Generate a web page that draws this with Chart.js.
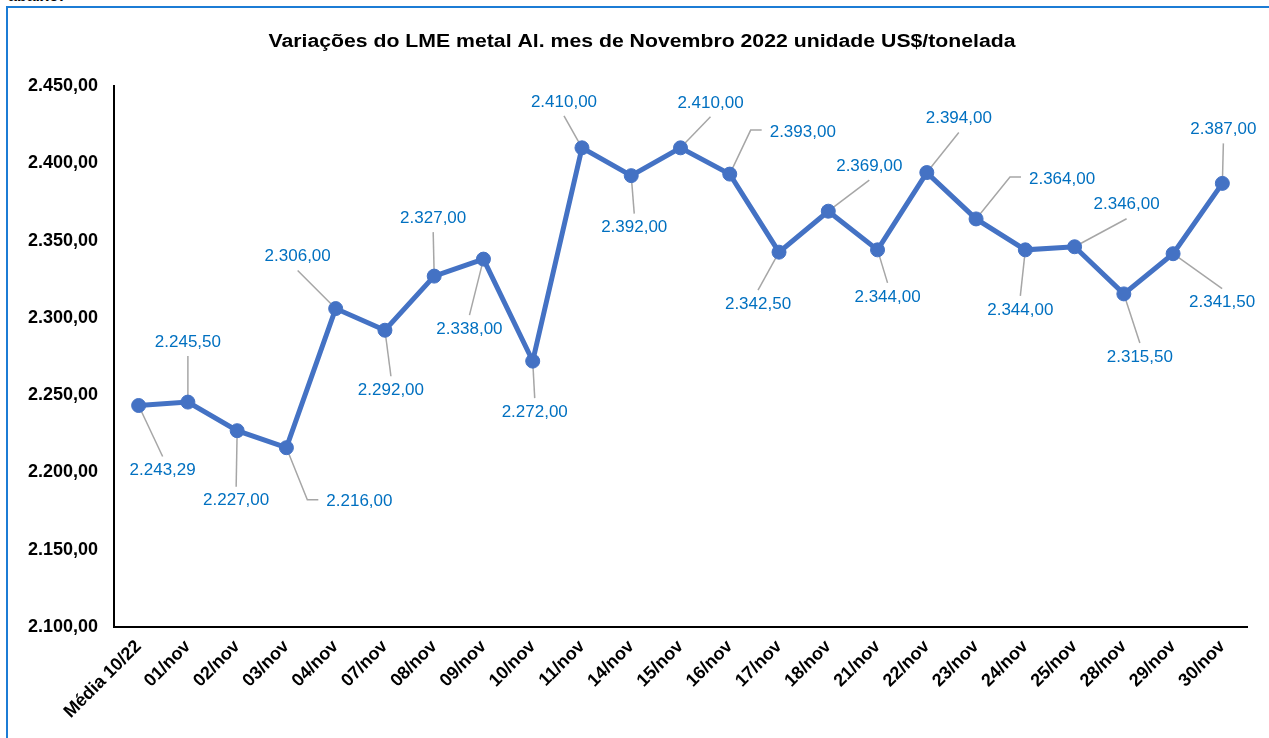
<!DOCTYPE html>
<html lang="pt-BR">
<head>
<meta charset="utf-8">
<title>LME Alumínio - Novembro 2022</title>
<script src="https://cdn.jsdelivr.net/npm/chart.js@4.4.1/dist/chart.umd.min.js"></script>
<style>
  html, body { margin: 0; padding: 0; background: #fff; overflow: hidden; }
  body { width: 1269px; height: 738px; position: relative; font-family: Arial, "Liberation Sans", sans-serif; }
  .corte { position: absolute; left: 8px; top: -13px; font-weight: bold; font-size: 16px; color: #000; }
  .moldura { position: absolute; left: 6px; top: 6px; width: 1290px; height: 760px; border: 2px solid #1C7CD5; }
  .grafico { position: absolute; left: 9px; top: 9px; width: 1260px; height: 729px; }
</style>
</head>
<body>
<div class="corte">abaixo:</div>
<div class="moldura"></div>
<div class="grafico"><canvas id="lmeChart"></canvas></div>

<script>
/* ===========================
   LME ALUMÍNIO - NOV/2022
   =========================== */

const titulo = 'Variações do LME metal Al. mes de Novembro 2022 unidade US$/tonelada';

const datas = ['Média 10/22', '01/nov', '02/nov', '03/nov', '04/nov', '07/nov', '08/nov', '09/nov',
    '10/nov', '11/nov', '14/nov', '15/nov', '16/nov', '17/nov', '18/nov', '21/nov', '22/nov',
    '23/nov', '24/nov', '25/nov', '28/nov', '29/nov', '30/nov'];

const precos = [2243.29, 2245.50, 2227.00, 2216.00, 2306.00, 2292.00, 2327.00, 2338.00,
    2272.00, 2410.00, 2392.00, 2410.00, 2393.00, 2342.50, 2369.00, 2344.00, 2394.00,
    2364.00, 2344.00, 2346.00, 2315.50, 2341.50, 2387.00];

const eixoY = { min: 2100, max: 2450, passo: 50 };

// posição dos rótulos em relação ao ponto: [dx, dy, ligação]
// b = linha até a base do rótulo, t = até o topo, l = pela esquerda com cotovelo
const posRotulos = [
    [24, 65, 't'], [0, -60, 'b'], [-1, 70, 't'], [73, 54, 'l'], [-38, -52, 'b'],
    [6, 60, 't'], [-1, -58, 'b'], [-14, 70, 't'], [2, 51, 't'], [-18, -46, 'b'],
    [3, 52, 't'], [30, -45, 'b'], [73, -42, 'l'], [-21, 52, 't'], [41, -45, 'b'],
    [10, 47, 't'], [32, -54, 'b'], [86, -40, 'l'], [-5, 60, 't'], [52, -42, 'b'],
    [16, 63, 't'], [49, 49, 't'], [1, -54, 'b']
];

function formatBR(v) {
    const [inteiro, dec] = v.toFixed(2).split('.');
    return inteiro.replace(/\B(?=(\d{3})+(?!\d))/g, '.') + ',' + dec;
}

const FONTE = 'Arial, "Liberation Sans", sans-serif';

function caixaRotulo(ctx, pt, i) {
    const txt = formatBR(precos[i]);
    const [dx, dy, modo] = posRotulos[i];
    const cx = pt.x + dx, cy = pt.y + dy;
    const w = ctx.measureText(txt).width;
    return { txt, modo, cx, cy, left: cx - w / 2 };
}

// título desenhado à mão (levemente esticado na horizontal como no Excel)
const tituloPlugin = {
    id: 'tituloPlugin',
    afterDraw(chart) {
        const ctx = chart.ctx;
        ctx.save();
        ctx.font = 'bold 18px ' + FONTE;
        ctx.fillStyle = '#000';
        ctx.textAlign = 'center';
        ctx.textBaseline = 'middle';
        ctx.translate(chart.width / 2 + 3, 33);
        ctx.scale(1.18, 1);
        ctx.fillText(titulo, 0, 0);
        ctx.restore();
    }
};

const rotulos = {
    id: 'rotulos',
    beforeDatasetsDraw(chart) {
        const ctx = chart.ctx;
        const meta = chart.getDatasetMeta(0);
        ctx.save();
        ctx.font = '17px ' + FONTE;
        ctx.strokeStyle = '#A6A6A6';
        ctx.lineWidth = 1.5;
        meta.data.forEach((pt, i) => {
            const r = caixaRotulo(ctx, pt, i);
            ctx.beginPath();
            ctx.moveTo(pt.x, pt.y);
            if (r.modo === 'b') {
                ctx.lineTo(r.cx, r.cy + 14);
            } else if (r.modo === 't') {
                ctx.lineTo(r.cx, r.cy - 14);
            } else {
                ctx.lineTo(r.left - 19, r.cy - 2);
                ctx.lineTo(r.left - 8, r.cy - 2);
            }
            ctx.stroke();
        });
        ctx.restore();
    },
    afterDatasetsDraw(chart) {
        const ctx = chart.ctx;
        const meta = chart.getDatasetMeta(0);
        ctx.save();
        ctx.font = '17px ' + FONTE;
        ctx.fillStyle = '#0070C0';
        ctx.textAlign = 'left';
        ctx.textBaseline = 'middle';
        meta.data.forEach((pt, i) => {
            const r = caixaRotulo(ctx, pt, i);
            ctx.fillText(r.txt, r.left, r.cy);
        });
        ctx.restore();
    }
};

new Chart(document.getElementById('lmeChart'), {
    type: 'line',
    data: {
        labels: datas,
        datasets: [{
            label: 'LME Al.',
            data: precos,
            borderColor: '#4472C4',
            backgroundColor: '#4472C4',
            borderWidth: 5,
            tension: 0,
            pointRadius: 7,
            pointHoverRadius: 7,
            pointBackgroundColor: '#4472C4',
            pointBorderColor: '#4472C4',
            pointBorderWidth: 1
        }]
    },
    options: {
        responsive: true,
        maintainAspectRatio: false,
        animation: false,
        layout: { padding: { left: 0, right: 22, top: 77, bottom: 0 } },
        plugins: {
            legend: { display: false },
            tooltip: { enabled: false },
            title: { display: false }
        },
        scales: {
            x: {
                offset: true,
                grid: { display: false, drawTicks: false },
                border: { display: true, color: '#000', width: 2 },
                ticks: {
                    color: '#000',
                    font: { family: FONTE, size: 18, weight: 'bold' },
                    minRotation: 45,
                    maxRotation: 45,
                    autoSkip: false,
                    padding: 9
                },
                afterFit(s) { s.height = 111; }
            },
            y: {
                min: eixoY.min,
                max: eixoY.max,
                grid: { display: false, drawTicks: false },
                border: { display: true, color: '#000', width: 2 },
                ticks: {
                    stepSize: eixoY.passo,
                    color: '#000',
                    font: { family: FONTE, size: 18, weight: 'bold' },
                    padding: 16,
                    callback: v => formatBR(v)
                },
                afterFit(s) { s.width = 105; }
            }
        }
    },
    plugins: [rotulos, tituloPlugin]
});
</script>
</body>
</html>
